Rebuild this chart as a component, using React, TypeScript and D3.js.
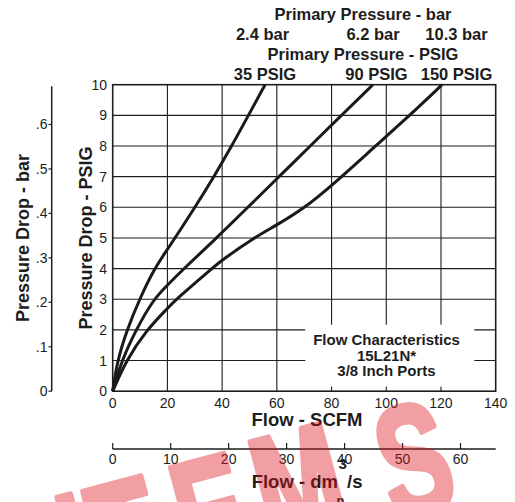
import { useEffect, useRef } from 'react';
import * as d3 from 'd3';

// Flow (SCFM) vs pressure drop (PSIG), one curve per primary pressure
const SERIES_NAMES = ['35 PSIG', '90 PSIG', '150 PSIG'];

const FLOW_35 = [0, 1.7, 5.2, 9.8, 15.2, 20, 30.1, 37, 43.5, 49.6, 55.7];
const DROP_35 = [0, 1, 2, 3, 4, 4.62, 6, 7, 8, 9, 10];

const FLOW_90 = [0, 3.3, 8.5, 14.9, 20, 26, 38, 49.4, 60.8, 72.2, 83.6, 95.1];
const DROP_90 = [0, 1, 2, 3, 3.46, 4, 5, 6, 7, 8, 9, 10];

const FLOW_150 = [0, 4.9, 12.4, 20, 23.2, 36.2, 40, 51.5, 60, 70, 80, 95.7, 108.5, 120.4];
const DROP_150 = [0, 1, 2, 2.7, 3, 4, 4.28, 5, 5.42, 5.97, 6.7, 7.97, 8.99, 10];

const SCFM_TICKS = [0, 20, 40, 60, 80, 100, 120, 140];
const PSIG_TICKS = [0, 1, 2, 3, 4, 5, 6, 7, 8, 9, 10];
const BAR_TICKS = [0, 0.1, 0.2, 0.3, 0.4, 0.5, 0.6];
const DM3_TICKS = [0, 10, 20, 30, 40, 50, 60];

const BAR_LABELS = ['2.4 bar', '6.2 bar', '10.3 bar'];
const PSIG_LABELS = ['35 PSIG', '90 PSIG', '150 PSIG'];
const LEGEND_LINES = ['Flow Characteristics', '15L21N*', '3/8 Inch Ports'];
const WATERMARK = ['I', 'T', 'E', 'M', 'S'];

const PSI_PER_BAR = 14.5038;
const DM3S_PER_SCFM = 0.4719;

const FONT = '"Liberation Sans", Arial, Helvetica, sans-serif';
const INK = '#1d1d1d';

export default function App() {
  const svgRef = useRef<SVGSVGElement>(null);

  useEffect(() => {
    if (!svgRef.current) return;
    const svg = d3.select(svgRef.current);
    svg.selectAll('*').remove();

    const left = 112.7;
    const right = 495.7;
    const top = 84.7;
    const bottom = 391.2;

    const x = d3.scaleLinear().domain([0, 140]).range([left, right]);
    const y = d3.scaleLinear().domain([0, 10]).range([bottom, top]);
    const yBar = d3.scaleLinear().domain([0, 10 / PSI_PER_BAR]).range([bottom, top]);
    const xDm = d3.scaleLinear().domain([0, 140 * DM3S_PER_SCFM]).range([left, right]);

    // grid
    const grid = svg.append('g').attr('stroke', INK).attr('stroke-width', 1.1);
    grid.selectAll('.vg')
      .data(SCFM_TICKS.slice(1, -1))
      .join('line')
      .attr('x1', (d) => x(d)).attr('x2', (d) => x(d))
      .attr('y1', top).attr('y2', bottom);
    grid.selectAll('.hg')
      .data(PSIG_TICKS.slice(1, -1))
      .join('line')
      .attr('x1', left).attr('x2', right)
      .attr('y1', (d) => y(d)).attr('y2', (d) => y(d));

    // legend box blanks out the grid
    svg.append('rect')
      .attr('x', x(70.4)).attr('y', y(2.17))
      .attr('width', x(132.2) - x(70.4))
      .attr('height', y(0.15) - y(2.17))
      .attr('fill', '#fff');

    svg.append('rect')
      .attr('x', left).attr('y', top)
      .attr('width', right - left).attr('height', bottom - top)
      .attr('fill', 'none').attr('stroke', INK).attr('stroke-width', 1.6);

    // curves
    const series = [
      { name: SERIES_NAMES[0], flow: FLOW_35, drop: DROP_35 },
      { name: SERIES_NAMES[1], flow: FLOW_90, drop: DROP_90 },
      { name: SERIES_NAMES[2], flow: FLOW_150, drop: DROP_150 },
    ];
    const line = d3.line<[number, number]>()
      .x((d) => x(d[0]))
      .y((d) => y(d[1]))
      .curve(d3.curveBasis);
    svg.append('g')
      .selectAll('path')
      .data(series)
      .join('path')
      .attr('d', (s) => line(s.flow.map((f, i) => [f, s.drop[i]] as [number, number])))
      .attr('fill', 'none')
      .attr('stroke', '#1a1a1a')
      .attr('stroke-width', 3)
      .attr('stroke-linejoin', 'round');

    const text = svg.append('g').attr('font-family', FONT).attr('fill', INK);

    // PSIG ticks
    text.selectAll('.yl')
      .data(PSIG_TICKS)
      .join('text')
      .attr('x', 107)
      .attr('y', (d) => y(d) + 5)
      .attr('text-anchor', 'end')
      .attr('font-size', 14)
      .text((d) => d);

    // SCFM ticks
    text.selectAll('.xl')
      .data(SCFM_TICKS)
      .join('text')
      .attr('x', (d) => x(d))
      .attr('y', 407.5)
      .attr('text-anchor', 'middle')
      .attr('font-size', 14)
      .text((d) => d);

    text.append('text')
      .attr('x', 307).attr('y', 425.5)
      .attr('text-anchor', 'middle')
      .attr('font-size', 18.5).attr('font-weight', 'bold')
      .text('Flow - SCFM');

    text.append('text')
      .attr('transform', `translate(92,${(top + bottom) / 2}) rotate(-90)`)
      .attr('text-anchor', 'middle')
      .attr('font-size', 18).attr('font-weight', 'bold')
      .text('Pressure Drop - PSIG');

    // bar axis on the far left
    const barAxis = svg.append('g');
    barAxis.append('line')
      .attr('x1', 51.7).attr('x2', 51.7)
      .attr('y1', y(10) + 1.5).attr('y2', bottom)
      .attr('stroke', INK).attr('stroke-width', 1.5);
    barAxis.selectAll('.bt')
      .data(BAR_TICKS)
      .join('line')
      .attr('x1', 48.5).attr('x2', 51.7)
      .attr('y1', (d) => yBar(d)).attr('y2', (d) => yBar(d))
      .attr('stroke', INK).attr('stroke-width', 1.2);
    text.selectAll('.bl')
      .data(BAR_TICKS)
      .join('text')
      .attr('x', 47.5)
      .attr('y', (d) => yBar(d) + 5)
      .attr('text-anchor', 'end')
      .attr('font-size', 14)
      .text((d) => (d === 0 ? '0' : d3.format('.1f')(d).replace(/^0/, '')));
    text.append('text')
      .attr('transform', `translate(29,${(top + bottom) / 2}) rotate(-90)`)
      .attr('text-anchor', 'middle')
      .attr('font-size', 18).attr('font-weight', 'bold')
      .text('Pressure Drop - bar');

    // dm3/s axis underneath
    const dmY = 449;
    svg.append('line')
      .attr('x1', left).attr('x2', right)
      .attr('y1', dmY).attr('y2', dmY)
      .attr('stroke', INK).attr('stroke-width', 1.5);
    svg.selectAll('.dt')
      .data(DM3_TICKS)
      .join('line')
      .attr('x1', (d) => xDm(d)).attr('x2', (d) => xDm(d))
      .attr('y1', dmY - 6).attr('y2', dmY)
      .attr('stroke', INK).attr('stroke-width', 1.2);
    text.selectAll('.dl')
      .data(DM3_TICKS)
      .join('text')
      .attr('x', (d) => xDm(d))
      .attr('y', 464)
      .attr('text-anchor', 'middle')
      .attr('font-size', 14)
      .text((d) => d);
    text.append('text')
      .attr('x', 338).attr('y', 488)
      .attr('text-anchor', 'end')
      .attr('font-size', 18.5).attr('font-weight', 'bold')
      .text('Flow - dm');
    text.append('text')
      .attr('x', 338.5).attr('y', 469)
      .attr('font-size', 15).attr('font-weight', 'bold')
      .text('3');
    text.append('text')
      .attr('x', 347).attr('y', 488)
      .attr('font-size', 18.5).attr('font-weight', 'bold')
      .text('/s');
    text.append('text')
      .attr('x', 336.5).attr('y', 505)
      .attr('font-size', 13).attr('font-weight', 'bold')
      .text('n');

    // primary pressure headings
    const head = text.append('g').attr('font-size', 16.5).attr('font-weight', 'bold');
    head.append('text').attr('x', 363).attr('y', 20).attr('text-anchor', 'middle')
      .text('Primary Pressure - bar');
    head.append('text').attr('x', 363).attr('y', 60).attr('text-anchor', 'middle')
      .text('Primary Pressure - PSIG');
    const barX = [262.5, 373, 456.5];
    const psigX = [265, 376.5, 456.5];
    head.selectAll('.bh')
      .data(BAR_LABELS)
      .join('text')
      .attr('x', (_, i) => barX[i]).attr('y', 40)
      .attr('text-anchor', 'middle')
      .text((d) => d);
    head.selectAll('.ph')
      .data(PSIG_LABELS)
      .join('text')
      .attr('x', (_, i) => psigX[i]).attr('y', 80)
      .attr('text-anchor', 'middle')
      .text((d) => d);

    // legend text
    text.selectAll('.lg')
      .data(LEGEND_LINES)
      .join('text')
      .attr('x', 386.5)
      .attr('y', (_, i) => 345 + i * 15.5)
      .attr('text-anchor', 'middle')
      .attr('font-size', 15).attr('font-weight', 'bold')
      .text((d) => d);

    // watermark, drawn on top like the stamp in the scan
    const wmX = [92, 140, 225, 313, 428];
    const wmY = [601, 589, 566, 538, 513];
    svg.append('g')
      .attr('opacity', 0.4)
      .selectAll('text')
      .data(WATERMARK)
      .join('text')
      .attr('transform', (_, i) => `translate(${wmX[i]},${wmY[i]}) rotate(-15) scale(0.66,1)`)
      .attr('text-anchor', 'middle')
      .attr('font-family', FONT)
      .attr('font-weight', 'bold')
      .attr('font-size', 158)
      .attr('fill', 'rgb(222,17,25)')
      .attr('stroke', 'rgb(222,17,25)')
      .attr('stroke-width', 6)
      .attr('stroke-linejoin', 'round')
      .text((d) => d);
  }, []);

  return (
    <svg
      ref={svgRef}
      width={515}
      height={502}
      style={{ position: 'absolute', left: 0, top: 0, background: '#fff' }}
    />
  );
}
